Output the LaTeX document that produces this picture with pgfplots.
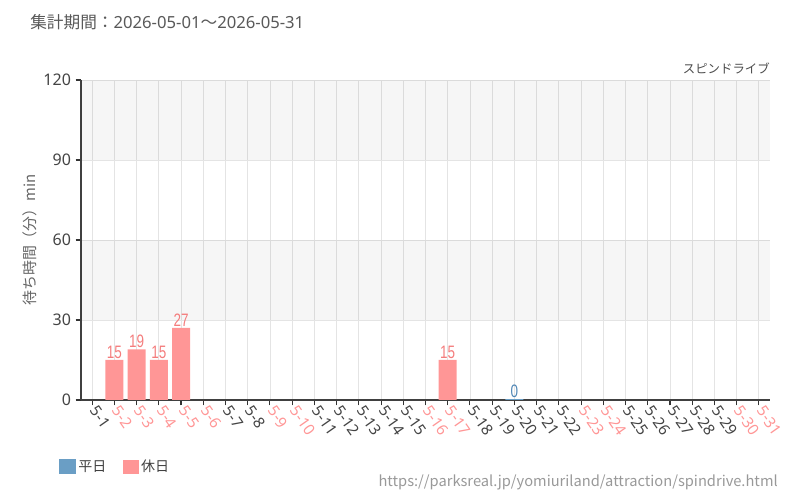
\documentclass[border=0pt]{standalone}
\usepackage{pgfplots}
\pgfplotsset{compat=1.18}
\usepackage{fontspec}
\setmainfont{Noto Sans}
\newfontfamily\cjk{Noto Sans CJK JP}
\newfontfamily\condfont{Liberation Sans}
\definecolor{wk}{HTML}{6A9EC5}
\definecolor{hol}{HTML}{FF9696}
\definecolor{holtxt}{HTML}{F47C7C}
\definecolor{wktxt}{HTML}{4F86B5}
\definecolor{tick}{HTML}{444444}
\definecolor{gridc}{HTML}{E4E4E4}
\newcommand{\hd}[1]{\textcolor{hol}{#1}}
\begin{document}
\begin{tikzpicture}
\path (0pt,0pt) rectangle (600pt,375pt);
\node[anchor=west,text=black!65,font=\fontsize{12.5}{14}\selectfont,inner sep=0] at (22.5pt,358.5pt) {{\cjk 集計期間：}2026-05-01{\cjk ～}2026-05-31};
\node[anchor=east,text=black!70,font=\cjk\fontsize{9.3}{11}\selectfont,inner sep=0] at (577.5pt,324pt) {スピンドライブ};
\node[anchor=east,text=black!40,font=\cjk\fontsize{11}{13}\selectfont,inner sep=0] at (583.5pt,13.5pt) {https://parksreal.jp/yomiuriland/attraction/spindrive.html};
\begin{axis}[
  at={(60.75pt,75pt)}, anchor=south west,
  scale only axis, width=516.75pt, height=240pt,
  xmin=-0.5, xmax=30.5, ymin=0, ymax=120,
  ytick={0,30,60,90,120},
  xtick={0,...,30},
  xticklabels={5-1,\hd{5-2},\hd{5-3},\hd{5-4},\hd{5-5},\hd{5-6},5-7,5-8,\hd{5-9},\hd{5-10},5-11,5-12,5-13,5-14,5-15,\hd{5-16},\hd{5-17},5-18,5-19,5-20,5-21,5-22,\hd{5-23},\hd{5-24},5-25,5-26,5-27,5-28,5-29,\hd{5-30},\hd{5-31}},
  xticklabel style={rotate=-55, anchor=west, inner sep=2pt, text=tick, font=\fontsize{11.5}{13}\selectfont},
  yticklabel style={text=tick, font=\fontsize{12}{14}\selectfont},
  /pgf/number format/assume math mode=true,
  axis x line*=bottom, axis y line*=left,
  axis line style={draw=black!75, line width=0.8pt},
  tick style={draw=black!80, line width=0.8pt},
  tick align=outside, major tick length=4pt,
  xmajorgrids, ymajorgrids,
  grid style={draw=gridc, line width=0.6pt},
  ylabel={\cjk 待ち時間（分）min},
  ylabel style={text=black!60, font=\fontsize{11.2}{12}\selectfont, yshift=-2pt},
  legend style={at={(-0.0319,-0.209)}, anchor=west, draw=none, fill=none, legend columns=2, inner sep=0pt,
    nodes={inner sep=1.5pt},
    font=\cjk\fontsize{10.5}{12}\selectfont, text=black!75,
    /tikz/every even column/.append style={column sep=11pt}},
  legend cell align=left,
]
\addplot[fill=black, fill opacity=0.035, draw=none, forget plot] coordinates {(-0.5,30) (30.5,30) (30.5,60) (-0.5,60)} -- cycle;
\addplot[fill=black, fill opacity=0.035, draw=none, forget plot] coordinates {(-0.5,90) (30.5,90) (30.5,120) (-0.5,120)} -- cycle;
\addplot[ybar, bar width=13.5pt, bar shift=0pt, fill=wk, draw=wk, line width=0.8pt,
  legend image code/.code={\fill[wk] (0pt,-5.25pt) rectangle (12pt,5.25pt);},
  nodes near coords={\scalebox{0.75}[1]{\pgfmathprintnumber{\pgfplotspointmeta}}},
  nodes near coords style={font=\condfont\fontsize{13.5}{15}\selectfont, inner sep=1pt, text=wktxt}] coordinates {(19,0)};
\addlegendentry{平日}
\addplot[ybar, bar width=13.5pt, bar shift=0pt, fill=hol, draw=none,
  legend image code/.code={\fill[hol] (0pt,-5.25pt) rectangle (12pt,5.25pt);},
  nodes near coords={\scalebox{0.75}[1]{\pgfmathprintnumber{\pgfplotspointmeta}}},
  nodes near coords style={font=\condfont\fontsize{13.5}{15}\selectfont, inner sep=1pt, text=holtxt}] coordinates {(1,15) (2,19) (3,15) (4,27) (16,15)};
\addlegendentry{休日}
\end{axis}
\end{tikzpicture}
\end{document}
